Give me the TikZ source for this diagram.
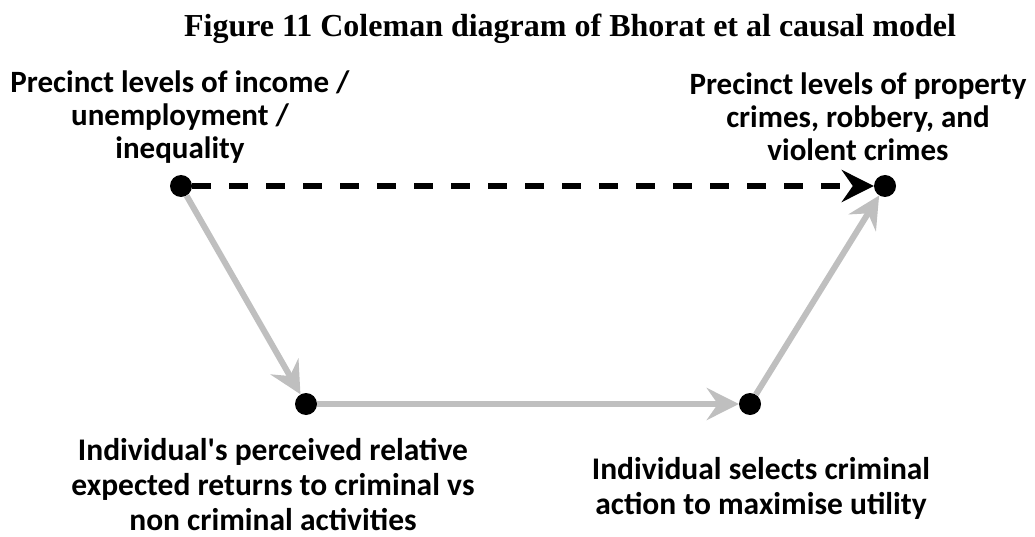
\documentclass[tikz,border=0pt]{standalone}
\usepackage{fontspec}
\setmainfont{Liberation Serif}
\newfontfamily\lblfont{Carlito}
\usetikzlibrary{arrows.meta}
\begin{document}
\begin{tikzpicture}[x=1pt,y=-1pt,
  dot/.style={circle,fill=black,draw=none,minimum size=22pt,inner sep=0pt},
  lbl/.style={align=center,inner sep=0pt,font=\lblfont\bfseries\fontsize{31}{33}\selectfont},
  lowlbl/.style={lbl,font=\lblfont\bfseries\fontsize{31.5}{35}\selectfont},
  tip/.style={-{Stealth[length=32pt,width=32pt,inset=11pt]}},
  micro/.style={tip,draw={rgb,255:red,191;green,191;blue,191},line width=6pt},
  macro/.style={tip,draw=black,line width=6pt,dash pattern=on 19pt off 18pt}]
\useasboundingbox (0,0) rectangle (1035,537);

\node[font=\bfseries\fontsize{32}{38}\selectfont] (title) at (570,29)
  {Figure 11 Coleman diagram of Bhorat et al causal model};

% the four states of the Coleman boat
\node[dot] (a) at (181,186) {};
\node[dot] (b) at (885,186) {};
\node[dot] (c) at (306,404) {};
\node[dot] (d) at (750,404) {};

\node[lbl] (la) at (180,117) {Precinct levels of income /\\unemployment /\\inequality};
\node[lbl] (lb) at (858,117) {Precinct levels of property\\crimes, robbery, and\\violent crimes};
\node[lowlbl] (lc) at (273,485) {Individual's perceived relative\\expected returns to criminal vs\\non criminal activities};
\node[lowlbl] (ld) at (761,488) {Individual selects criminal\\action to maximise utility};

% macro-level association and micro-level mechanism
\draw[macro] (a) -- (b);
\draw[micro] (a) -- (c);
\draw[micro] (c) -- (d);
\draw[micro] (d) -- (b);
\end{tikzpicture}
\end{document}
